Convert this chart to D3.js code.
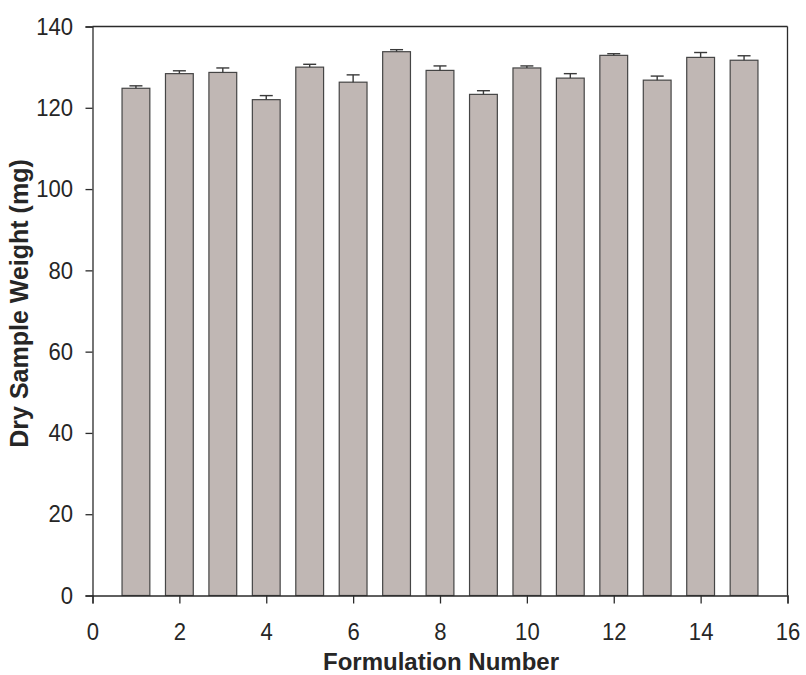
<!DOCTYPE html>
<html>
<head>
<meta charset="utf-8">
<script src="https://cdn.jsdelivr.net/npm/d3@7"></script>
<style>
  html, body { margin: 0; padding: 0; background: #fff; }
  svg { display: block; }
  text { font-family: "Liberation Sans", Arial, sans-serif; fill: #262626; }
</style>
</head>
<body>
<svg id="chart" width="806" height="675"></svg>
<script>
// Formulation numbers and mean dry sample weight (mg) with upper error
const formulations = [1, 2, 3, 4, 5, 6, 7, 8, 9, 10, 11, 12, 13, 14, 15];
const weights = [124.8, 128.4, 128.7, 122.0, 130.0, 126.3, 133.8, 129.2, 123.3, 129.8, 127.3, 132.9, 126.8, 132.4, 131.7];
const errors = [0.6, 0.7, 1.1, 1.0, 0.7, 1.8, 0.5, 1.1, 0.9, 0.5, 1.1, 0.4, 1.0, 1.2, 1.1];
const xTicks = [0, 2, 4, 6, 8, 10, 12, 14, 16];
const yTicks = [0, 20, 40, 60, 80, 100, 120, 140];

const svg = d3.select("#chart");
const W = 806, H = 675;
const margin = { left: 92.5, right: W - 787.5, top: 26.5, bottom: H - 595.5 };

const x = d3.scaleLinear().domain([0, 16]).range([margin.left, W - margin.right]);
const y = d3.scaleLinear().domain([0, 140]).range([H - margin.bottom, margin.top]);
const barW = x(0.64) - x(0);

const data = formulations.map((f, i) => ({ f, v: weights[i], e: errors[i] }));

// bars
svg.append("g").selectAll("rect").data(data).join("rect")
  .attr("x", d => x(d.f) - barW / 2)
  .attr("y", d => y(d.v))
  .attr("width", barW)
  .attr("height", d => y(0) - y(d.v))
  .attr("fill", "#c0b7b4")
  .attr("stroke", "#454545")
  .attr("stroke-width", 1.2);

// upper error bars
const capW = 13;
const eg = svg.append("g").attr("stroke", "#3a3a3a").attr("stroke-width", 1.4);
eg.selectAll("line.stem").data(data).join("line").attr("class", "stem")
  .attr("x1", d => x(d.f)).attr("x2", d => x(d.f))
  .attr("y1", d => y(d.v)).attr("y2", d => y(d.v + d.e));
eg.selectAll("line.cap").data(data).join("line").attr("class", "cap")
  .attr("x1", d => x(d.f) - capW / 2).attr("x2", d => x(d.f) + capW / 2)
  .attr("y1", d => y(d.v + d.e)).attr("y2", d => y(d.v + d.e));

// frame: top and right borders
const frame = svg.append("g").attr("stroke", "#2b2b2b").attr("stroke-width", 1.3).attr("fill", "none");
frame.append("line").attr("x1", x(0)).attr("x2", x(16)).attr("y1", y(140)).attr("y2", y(140));
frame.append("line").attr("x1", x(16)).attr("x2", x(16)).attr("y1", y(140)).attr("y2", y(0));

// axes; tick labels are slightly condensed horizontally
const squeeze = 0.92;
const xAxis = svg.append("g").attr("transform", `translate(0,${y(0)})`)
  .call(d3.axisBottom(x).tickValues(xTicks).tickSize(8).tickPadding(19.5).tickFormat(d3.format("d")));
const yAxis = svg.append("g").attr("transform", `translate(${x(0)},0)`)
  .call(d3.axisLeft(y).tickValues(yTicks).tickSize(7).tickPadding(12.5).tickFormat(d3.format("d")));
[xAxis, yAxis].forEach(a => {
  a.select(".domain").attr("stroke", "#2b2b2b").attr("stroke-width", 1.3);
  a.selectAll(".tick line").attr("stroke", "#2b2b2b").attr("stroke-width", 1.3);
  a.selectAll(".tick text").attr("font-size", 24).attr("fill", "#262626")
    .attr("font-family", "Liberation Sans, Arial, sans-serif")
    .attr("transform", `scale(${squeeze},1)`);
});
yAxis.selectAll(".tick text").attr("x", -19.5 / squeeze);

// axis titles
svg.append("text")
  .attr("x", 441).attr("y", 670)
  .attr("text-anchor", "middle")
  .attr("font-size", 24).attr("font-weight", "bold")
  .text("Formulation Number");
svg.append("text")
  .attr("transform", "translate(27.5,303.5) rotate(-90)")
  .attr("text-anchor", "middle")
  .attr("font-size", 25).attr("font-weight", "bold")
  .text("Dry Sample Weight (mg)");
</script>
</body>
</html>
